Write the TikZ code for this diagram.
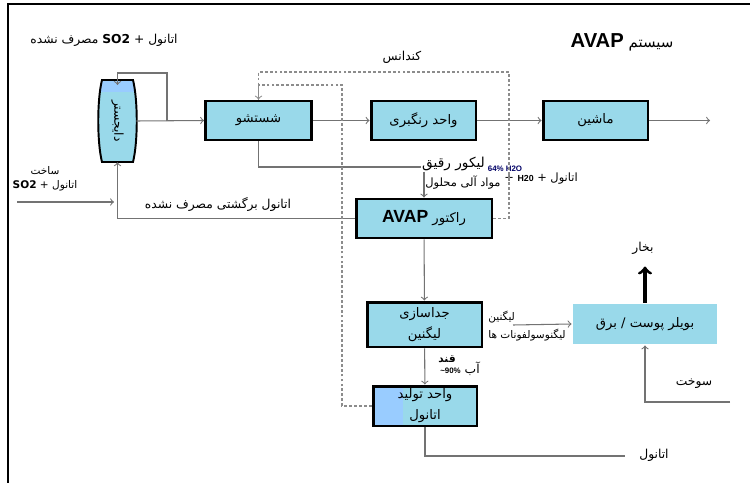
\documentclass[tikz,border=0pt]{standalone}
\usepackage{fontspec}
\setmainfont{Liberation Serif}
\newfontfamily\farsi[Script=Arabic]{DejaVu Sans}
\newfontfamily\arial{Liberation Sans}
\usetikzlibrary{calc}
\TeXXeTstate=1
\def\fatxt#1{{\farsi\beginR #1\endR}}
\def\latw#1{\beginL #1\endL{}}
\definecolor{boxcyan}{HTML}{99D9EA}
\definecolor{boxblue}{HTML}{99CCFF}
\tikzset{
  unit/.style={draw=black, line width=1.7pt, fill=boxcyan, inner sep=1pt, align=center, font=\fontsize{7.5}{12}\selectfont},
  flow/.style={draw=black!55, line width=0.6pt, ->},
  cond/.style={draw=black!45, line width=0.6pt, dash pattern=on 1.6pt off 1.2pt},
  lbl/.style={inner sep=0.5pt, align=center, font=\fontsize{7}{9}\selectfont},
}

\begin{document}
\begin{tikzpicture}[x=0.02cm, y=-0.02cm]
	\useasboundingbox (0,0) rectangle (750,483);
	%%%%% FRAME %%%%%
	\draw[line width=0.8pt] (8,483) -- (8,4) -- (750,4);

	%%%%% DIGESTER %%%%%
	\node[minimum width=0.74cm, minimum height=1.64cm] (dig) at (117.5,121) {};
	\fill[boxcyan] (102,80) -- (133,80) .. controls (138,100) and (138,142) .. (133,162) -- (102,162) .. controls (97,142) and (97,100) .. (102,80) -- cycle;
	\begin{scope}
		\clip (102,80) -- (133,80) .. controls (138,100) and (138,142) .. (133,162) -- (102,162) .. controls (97,142) and (97,100) .. (102,80) -- cycle;
		\fill[boxblue] (95,78) rectangle (140,92);
	\end{scope}
	\draw[line width=1.1pt] (102,80) -- (133,80) .. controls (138,100) and (138,142) .. (133,162) -- (102,162) .. controls (97,142) and (97,100) .. (102,80) -- cycle;
	\node[lbl, rotate=-90] (diglbl) at (dig.center) {\fatxt{دایجستر}};

	%%%%% UNITS %%%%%
	\node[unit, minimum width=2.12cm, minimum height=0.78cm] (wash) at (258.5,120.5) {\fatxt{شستشو}};
	\node[unit, minimum width=2.1cm, minimum height=0.78cm] (dye) at (423.5,120.5) {\fatxt{واحد رنگبری}};
	\node[unit, minimum width=2.1cm, minimum height=0.78cm] (mach) at (595.5,120.5) {\fatxt{ماشین}};
	\node[unit, minimum width=2.72cm, minimum height=0.78cm] (reactor) at (424,218.5)
		{\fatxt{راکتور \latw{{\arial\bfseries\fontsize{10}{12}\selectfont AVAP}}}};
	\node[unit, minimum width=2.3cm, minimum height=0.9cm] (sep) at (424.5,324.5) {\fatxt{جداسازی}\\\fatxt{لیگنین}};
	\node[unit, draw=none, minimum width=2.88cm, minimum height=0.8cm] (boiler) at (645,324) {\fatxt{بویلر پوست / برق}};
	\node[unit, minimum width=2.08cm, minimum height=0.8cm,
		path picture={\fill[boxblue] (path picture bounding box.south west) rectangle ++(0.6cm,0.8cm);}]
		(ethunit) at (425,406) {\fatxt{واحد تولید}\\\fatxt{اتانول}};

	%%%%% LABELS %%%%%
	\node[lbl] (so2top) at (104,40) {\fatxt{اتانول + \latw{{\bfseries SO2}} مصرف نشده}};
	\node[lbl, font=\fontsize{8.5}{10}\selectfont] (title) at (622,42)
		{\fatxt{سیستم \latw{{\arial\bfseries\fontsize{11.5}{12}\selectfont AVAP}}}};
	\node[lbl] (condlbl) at (402,57) {\fatxt{کندانس}};
	\node[lbl, font=\fontsize{6}{8}\selectfont] (feedlbl) at (45,179) {\fatxt{ساخت}\\\fatxt{اتانول + \latw{{\bfseries SO2}}}};
	\node[lbl] (retlbl) at (218,204) {\fatxt{اتانول برگشتی مصرف نشده}};
	\node[lbl, anchor=base west, font=\fontsize{7.8}{10}\selectfont] (liq) at (421,167) {\fatxt{لیکور رقیق}};
	\node[lbl, font=\fontsize{6.5}{8}\selectfont] (orglbl) at (463,183) {\fatxt{مواد آلی محلول}};
	\node[lbl, text=blue!40!black, font=\arial\bfseries\fontsize{4.5}{5}\selectfont] (h2olbl) at (505,169) {64\% H2O};
	\node[lbl, font=\fontsize{6.5}{8}\selectfont] (etlbl) at (541,179)
		{\fatxt{اتانول + \latw{{\arial\bfseries\fontsize{5}{6}\selectfont H20}} +}};
	\node[lbl, align=left, font=\fontsize{6}{10}\selectfont] (liglbl) at (527,326) {\fatxt{لیگنین}\\\fatxt{لیگنوسولفونات ها}};
	\node[lbl] (steamlbl) at (643,248) {\fatxt{بخار}};
	\node[lbl] (fuellbl) at (694,384) {\fatxt{سوخت}};
	\node[lbl, font=\fontsize{6}{8}\selectfont] (sugarlbl) at (447,359) {\fatxt{\bfseries قند}};
	\node[lbl] (waterlbl) at (460,369) {\fatxt{آب \latw{{\arial\bfseries\fontsize{4.5}{5}\selectfont \textasciitilde 90\%}}}};
	\node[lbl] (ethlbl) at (654,455) {\fatxt{اتانول}};

	%%%%% CONNECTORS %%%%%
	\coordinate (split) at (167,121);
	\coordinate (feed) at (17,202);
	\coordinate (out) at (710,120.5);
	\coordinate (ligin) at (513,325);
	\coordinate (fuel) at (730,402);
	\coordinate (ethout) at (625,456);
	\coordinate (cout) at (509,72);
	\coordinate (cin) at (342,85);

	\draw[flow] (dig.east) -- (wash.west);
	\draw[flow] (split) -- ++(0,-48) -| ([yshift=-3pt]dig.north);
	\draw[flow] (wash) -- (dye);
	\draw[flow] (dye) -- (mach);
	\draw[flow] (mach) -- (out);
	\draw[flow, -] (wash.south) |- (liq.base west);
	\draw[flow] (reactor.north |- liq.south) -- (reactor.north);
	\draw[flow] (reactor.west) -| (dig.south);
	\draw[flow, shorten >=2pt] (feed) -- (feed -| dig.south);
	\draw[flow] (reactor) -- (sep);
	\draw[flow] (ligin) -- (boiler.west);
	\draw[->, line width=1.8pt] (boiler.north) -- ++(0,-36);
	\draw[flow] (fuel) -| (boiler.south);
	\draw[flow] (sep) -- (ethunit);
	\draw[flow, -] (ethunit.south) |- (ethout);

	\draw[cond, ->] (reactor.east) -| (cout) -| (wash.north);
	\draw[cond] (ethunit.west) -| (cin) -| (wash.north);
\end{tikzpicture}
\end{document}
